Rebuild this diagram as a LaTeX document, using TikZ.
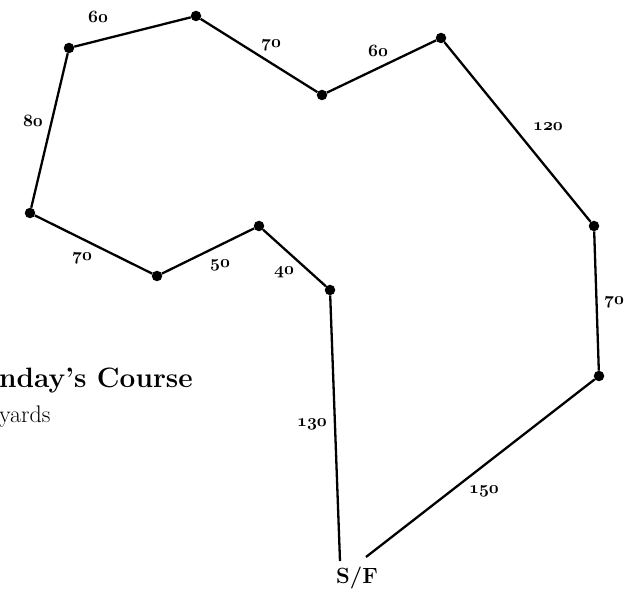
\documentclass[tikz,border=0pt]{standalone}
\usepackage{tikz}
\usetikzlibrary{positioning}
\tikzset{
  dot/.style={circle, fill=black, inner sep=0pt, minimum size=10.5pt},
  leg/.style={line width=2.3pt, draw=black},
  dist/.style={font=\fontsize{19}{20}\selectfont, inner sep=0pt},
}
\newcommand{\yd}[1]{{\usefont{OML}{cmm}{b}{it}#1}}

\begin{document}
\begin{tikzpicture}[x=1pt, y=-1pt]
  \useasboundingbox (0,0) rectangle (633,593);
  % turning points of the course
  \node[dot] (a) at (69,48) {};
  \node[dot] (b) at (196,16) {};
  \node[dot] (c) at (322,95) {};
  \node[dot] (d) at (441,38) {};
  \node[dot] (e) at (594,226) {};
  \node[dot] (f) at (599,376) {};
  \node[dot] (g) at (330,290) {};
  \node[dot] (h) at (259,226) {};
  \node[dot] (i) at (157,276) {};
  \node[dot] (j) at (30,213) {};
  \coordinate (sfl) at (340,561);
  \coordinate (sfr) at (366,557);
  \node[font=\fontsize{22}{24}\selectfont\bfseries, inner sep=0pt] (sf) at (357,578) {S/F};
  % legs
  \draw[leg] (sfr) -- (f) -- (e) -- (d) -- (c) -- (b) -- (a) -- (j) -- (i) -- (h) -- (g) -- (sfl);
  % distances
  \node[dist] (dab) at (98,17) {\yd{60}};
  \node[dist] (dbc) at (271,45) {\yd{70}};
  \node[dist] (dcd) at (378,51) {\yd{60}};
  \node[dist] (dde) at (548,127) {\yd{120}};
  \node[dist] (def) at (614,302) {\yd{70}};
  \node[dist] (dfs) at (484,491) {\yd{150}};
  \node[dist] (dgs) at (312,424) {\yd{130}};
  \node[dist] (dhg) at (284,272) {\yd{40}};
  \node[dist] (dih) at (220,265) {\yd{50}};
  \node[dist] (dji) at (82,258) {\yd{70}};
  \node[dist] (daj) at (33,121) {\yd{80}};
  % title
  \node[anchor=base west, inner sep=0pt, font=\fontsize{28}{30}\selectfont\bfseries] (title) at (-1,388) {nday’s Course};
  \node[anchor=base west, inner sep=0pt, font=\fontsize{24}{26}\selectfont] (unit) at (-1,423) {yards};
\end{tikzpicture}
\end{document}
